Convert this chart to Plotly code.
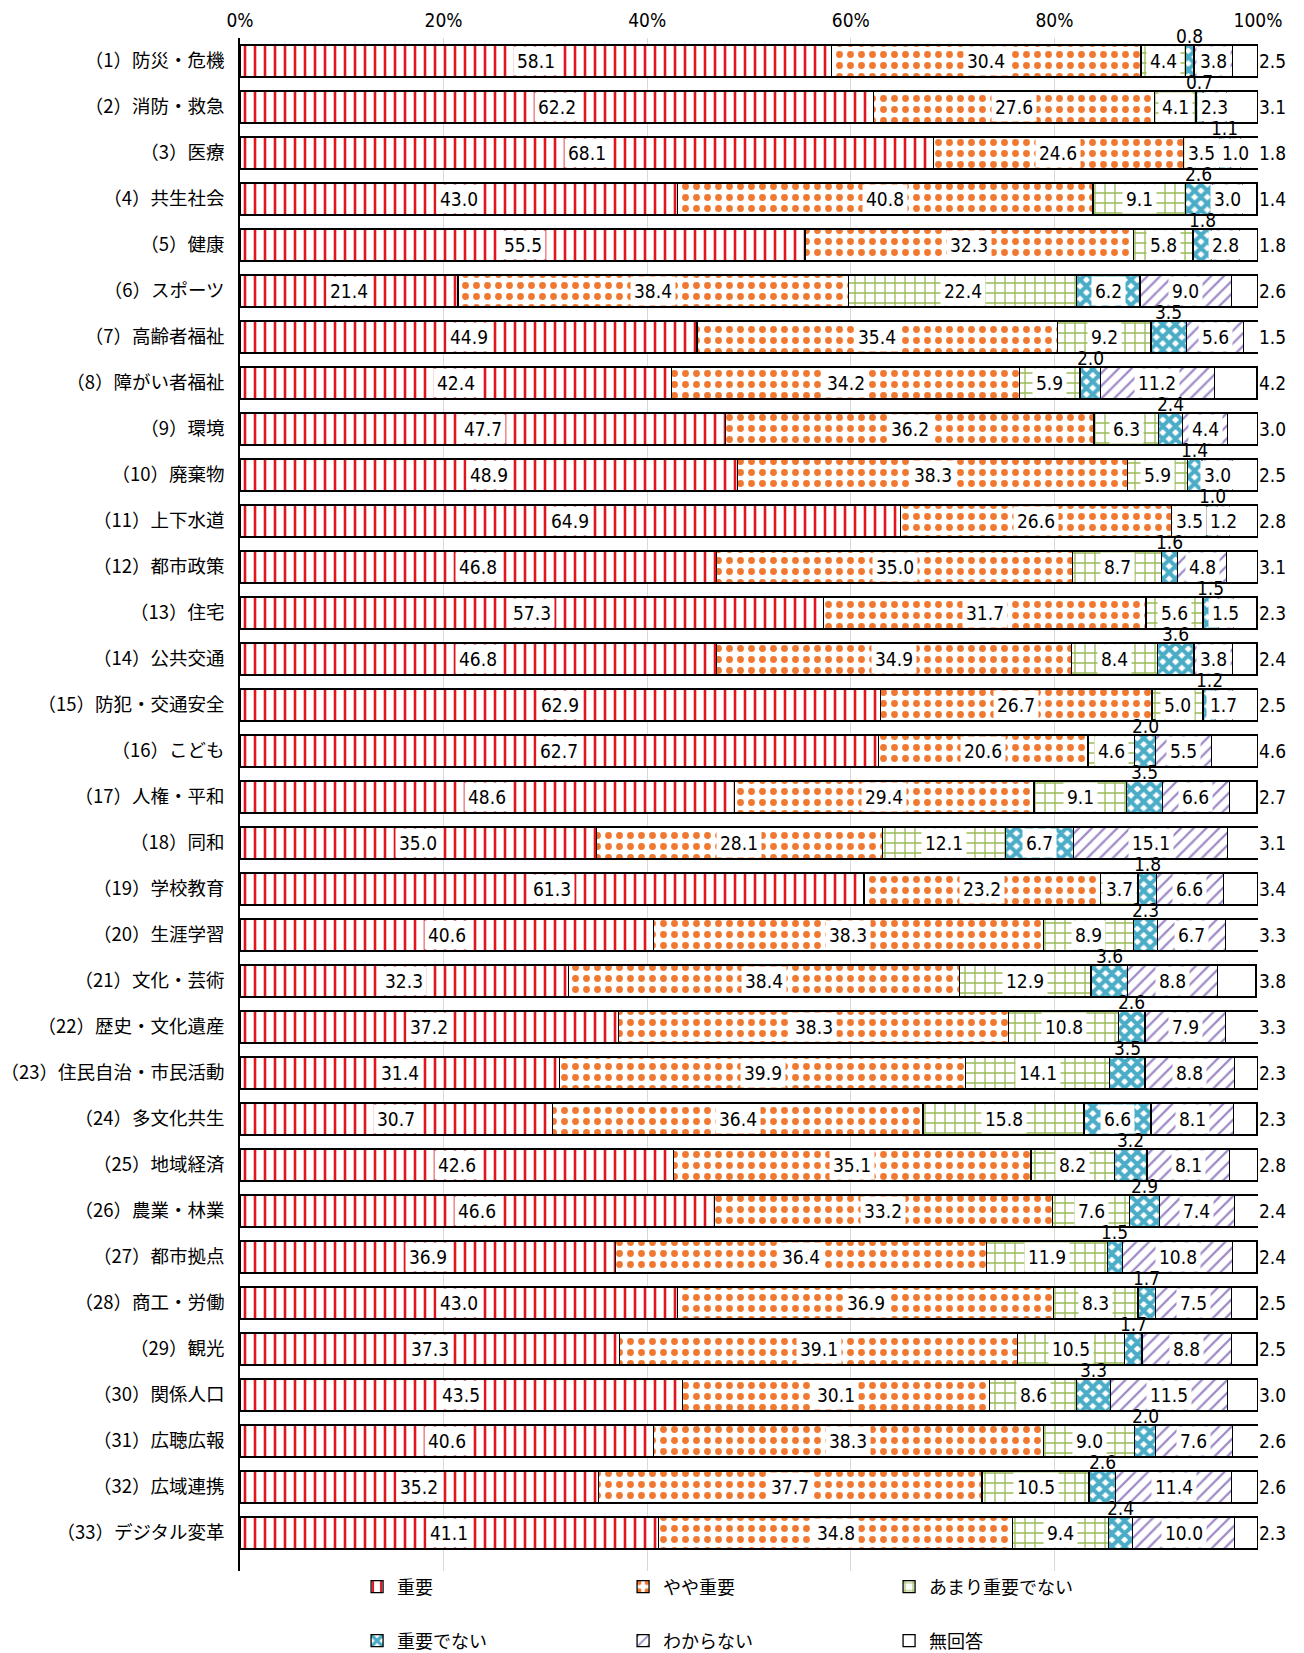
import plotly.graph_objects as go

categories = [
    "（1）防災・危機", "（2）消防・救急", "（3）医療", "（4）共生社会", "（5）健康",
    "（6）スポーツ", "（7）高齢者福祉", "（8）障がい者福祉", "（9）環境", "（10）廃棄物",
    "（11）上下水道", "（12）都市政策", "（13）住宅", "（14）公共交通", "（15）防犯・交通安全",
    "（16）こども", "（17）人権・平和", "（18）同和", "（19）学校教育", "（20）生涯学習",
    "（21）文化・芸術", "（22）歴史・文化遺産", "（23）住民自治・市民活動", "（24）多文化共生",
    "（25）地域経済", "（26）農業・林業", "（27）都市拠点", "（28）商工・労働", "（29）観光",
    "（30）関係人口", "（31）広聴広報", "（32）広域連携", "（33）デジタル変革",
]

series_names = ["重要", "やや重要", "あまり重要でない", "重要でない", "わからない", "無回答"]

juyo = [58.1, 62.2, 68.1, 43.0, 55.5, 21.4, 44.9, 42.4, 47.7, 48.9, 64.9, 46.8, 57.3, 46.8, 62.9,
        62.7, 48.6, 35.0, 61.3, 40.6, 32.3, 37.2, 31.4, 30.7, 42.6, 46.6, 36.9, 43.0, 37.3, 43.5,
        40.6, 35.2, 41.1]
yaya_juyo = [30.4, 27.6, 24.6, 40.8, 32.3, 38.4, 35.4, 34.2, 36.2, 38.3, 26.6, 35.0, 31.7, 34.9, 26.7,
             20.6, 29.4, 28.1, 23.2, 38.3, 38.4, 38.3, 39.9, 36.4, 35.1, 33.2, 36.4, 36.9, 39.1, 30.1,
             38.3, 37.7, 34.8]
amari = [4.4, 4.1, 3.5, 9.1, 5.8, 22.4, 9.2, 5.9, 6.3, 5.9, 3.5, 8.7, 5.6, 8.4, 5.0,
         4.6, 9.1, 12.1, 3.7, 8.9, 12.9, 10.8, 14.1, 15.8, 8.2, 7.6, 11.9, 8.3, 10.5, 8.6,
         9.0, 10.5, 9.4]
juyo_denai = [0.8, 0.7, 1.1, 2.6, 1.8, 6.2, 3.5, 2.0, 2.4, 1.4, 1.0, 1.6, 1.5, 3.6, 1.2,
              2.0, 3.5, 6.7, 1.8, 2.3, 3.6, 2.6, 3.5, 6.6, 3.2, 2.9, 1.5, 1.7, 1.7, 3.3,
              2.0, 2.6, 2.4]
wakaranai = [3.8, 2.3, 1.0, 3.0, 2.8, 9.0, 5.6, 11.2, 4.4, 3.0, 1.2, 4.8, 1.5, 3.8, 1.7,
             5.5, 6.6, 15.1, 6.6, 6.7, 8.8, 7.9, 8.8, 8.1, 8.1, 7.4, 10.8, 7.5, 8.8, 11.5,
             7.6, 11.4, 10.0]
mukaito = [2.5, 3.1, 1.8, 1.4, 1.8, 2.6, 1.5, 4.2, 3.0, 2.5, 2.8, 3.1, 2.3, 2.4, 2.5,
           4.6, 2.7, 3.1, 3.4, 3.3, 3.8, 3.3, 2.3, 2.3, 2.8, 2.4, 2.4, 2.5, 2.5, 3.0,
           2.6, 2.6, 2.3]

tick_vals = [0, 20, 40, 60, 80, 100]
tick_text = ["0%", "20%", "40%", "60%", "80%", "100%"]

all_series = [juyo, yaya_juyo, amari, juyo_denai, wakaranai, mukaito]

styles = [
    dict(shape="|", fg="#e0161e", size=10, solidity=0.26),
    dict(shape=".", fg="#f07830", size=11, solidity=0.3),
    dict(shape="+", fg="#9bbb59", size=10, solidity=0.25),
    dict(shape="x", fg="#4aacc6", size=9, solidity=0.7),
    dict(shape="/", fg="#9f8ac8", size=9, solidity=0.25),
    dict(shape="", fg="#ffffff", size=8, solidity=0.3),
]

NUM_FONT = "Liberation Sans Narrow, DejaVu Sans Condensed, Noto Sans CJK JP, sans-serif"
JP_FONT = "Noto Sans CJK JP, sans-serif"
NUM_SIZE = 19
FIG_H = 1653

fig = go.Figure()
for i, (name, vals, st) in enumerate(zip(series_names, all_series, styles)):
    pattern = dict(shape=st["shape"], fgcolor=st["fg"], bgcolor="#ffffff",
                   size=st["size"], solidity=st["solidity"], fillmode="replace")
    fig.add_trace(go.Bar(
        y=categories, x=vals, name=name, orientation="h",
        marker=dict(color="#ffffff", pattern=pattern, line=dict(color="#000000", width=1.3)),
        legend="legend" if i < 3 else "legend2",
        hoverinfo="skip",
    ))

# data labels
annotations = []
for ci, cat in enumerate(categories):
    cum = 0.0
    for si, vals in enumerate(all_series):
        v = vals[ci]
        mid = cum + v / 2.0
        cum += v
        label = f"{v:.1f}"
        if si == 5:
            annotations.append(dict(x=100, y=cat, xref="x", yref="y", text=label, showarrow=False,
                                    xanchor="left", xshift=-1,
                                    font=dict(family=NUM_FONT, size=NUM_SIZE, color="#000")))
        elif si == 3 and v < 5:
            annotations.append(dict(x=mid, y=cat, xref="x", yref="y", text=label, showarrow=False,
                                    yshift=25, font=dict(family=NUM_FONT, size=NUM_SIZE, color="#000")))
        else:
            annotations.append(dict(x=mid, y=cat, xref="x", yref="y", text=label, showarrow=False,
                                    bgcolor="#ffffff", borderpad=3,
                                    font=dict(family=NUM_FONT, size=NUM_SIZE, color="#000")))

fig.update_layout(
    barmode="stack",
    bargap=0.31,
    width=1304, height=FIG_H,
    margin=dict(l=232, r=54, t=30, b=90, autoexpand=False),
    paper_bgcolor="#ffffff", plot_bgcolor="#ffffff",
    font=dict(family=JP_FONT, size=16, color="#000"),
    annotations=annotations,
    legend=dict(orientation="h", x=0.115, xanchor="left", y=1 - 1579 / FIG_H, yanchor="middle",
                yref="container", entrywidth=221, entrywidthmode="pixels", itemwidth=30,
                font=dict(family=JP_FONT, size=18), traceorder="normal", bgcolor="rgba(0,0,0,0)"),
    legend2=dict(orientation="h", x=0.115, xanchor="left", y=1 - 1633 / FIG_H, yanchor="middle",
                 yref="container", entrywidth=221, entrywidthmode="pixels", itemwidth=30,
                 font=dict(family=JP_FONT, size=18), traceorder="normal", bgcolor="rgba(0,0,0,0)"),
    showlegend=True,
)
fig.update_xaxes(range=[0, 100], side="top", tickvals=tick_vals, ticktext=tick_text,
                 showgrid=True, gridcolor="#d9d9d9", gridwidth=1, zeroline=False,
                 automargin=False, ticklabelstandoff=6,
                 tickfont=dict(family=NUM_FONT, size=19), fixedrange=True)
fig.update_yaxes(autorange="reversed", showline=True, linecolor="#000000", linewidth=1.5,
                 ticks="", automargin=False, ticklabelstandoff=10,
                 tickfont=dict(family=JP_FONT, size=18.5), fixedrange=True)

fig.write_html("out.html")
